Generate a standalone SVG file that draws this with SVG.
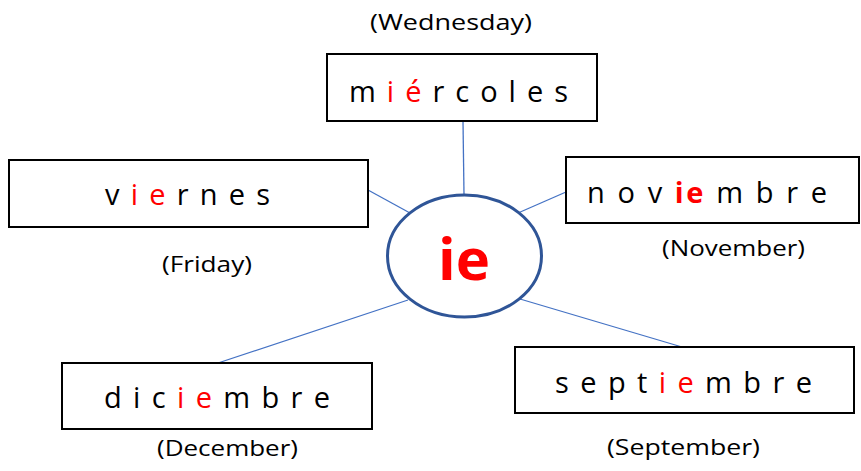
<svg xmlns="http://www.w3.org/2000/svg" width="861" height="471" viewBox="0 0 861 471">
<style>
.box{fill:#fff;stroke:#000;stroke-width:2}
.w{font-family:"Open Sans","Noto Sans",sans-serif;font-size:29px;fill:#000}
.r{fill:#ff0000}
.b{font-weight:bold}
.lbl{font-family:"Open Sans","Noto Sans",sans-serif;font-size:22px;fill:#000}
.con{stroke:#4472C4;stroke-width:1.3;fill:none}
</style>
<rect width="861" height="471" fill="#fff"/>
<g id="connectors">
<line class="con" x1="463" y1="121" x2="464" y2="195"/>
<line class="con" x1="368" y1="190" x2="410" y2="213"/>
<line class="con" x1="566" y1="192" x2="518" y2="213"/>
<line class="con" x1="218" y1="363" x2="408" y2="300"/>
<line class="con" x1="682" y1="347" x2="520" y2="299"/>
</g>
<g id="center">
<ellipse cx="464.5" cy="256" rx="77" ry="61" fill="#fff" stroke="#2F5597" stroke-width="3"/>
<text x="464" y="280" text-anchor="middle" font-family="'Open Sans','Noto Sans',sans-serif" font-size="58" font-weight="bold" fill="#ff0000">ie</text>
</g>
<g id="miercoles">
<rect class="box" x="327" y="54" width="270" height="67"/>
<text class="w" x="349" y="102" textLength="219" lengthAdjust="spacing">m <tspan class="r">i é</tspan> r c o l e s</text>
<text class="lbl" x="370" y="30" textLength="162" lengthAdjust="spacingAndGlyphs">(Wednesday)</text>
</g>
<g id="viernes">
<rect class="box" x="9" y="160" width="359" height="67"/>
<text class="w" x="105" y="205" textLength="165" lengthAdjust="spacing">v <tspan class="r">i e</tspan> r n e s</text>
<text class="lbl" x="162" y="272" textLength="90" lengthAdjust="spacingAndGlyphs">(Friday)</text>
</g>
<g id="noviembre">
<rect class="box" x="566" y="157" width="293" height="66"/>
<text class="w" x="587" y="203" textLength="240" lengthAdjust="spacing">n o v <tspan class="r b">ie</tspan> m b r e</text>
<text class="lbl" x="662" y="256" textLength="143" lengthAdjust="spacingAndGlyphs">(November)</text>
</g>
<g id="diciembre">
<rect class="box" x="62" y="363" width="310" height="66"/>
<text class="w" x="104" y="408" textLength="226" lengthAdjust="spacing">d i c <tspan class="r">i e</tspan> m b r e</text>
<text class="lbl" x="157" y="456" textLength="141" lengthAdjust="spacingAndGlyphs">(December)</text>
</g>
<g id="septiembre">
<rect class="box" x="515" y="347" width="339" height="66"/>
<text class="w" x="555" y="393" textLength="257" lengthAdjust="spacing">s e p t <tspan class="r">i e</tspan> m b r e</text>
<text class="lbl" x="607" y="455" textLength="153" lengthAdjust="spacingAndGlyphs">(September)</text>
</g>
</svg>
